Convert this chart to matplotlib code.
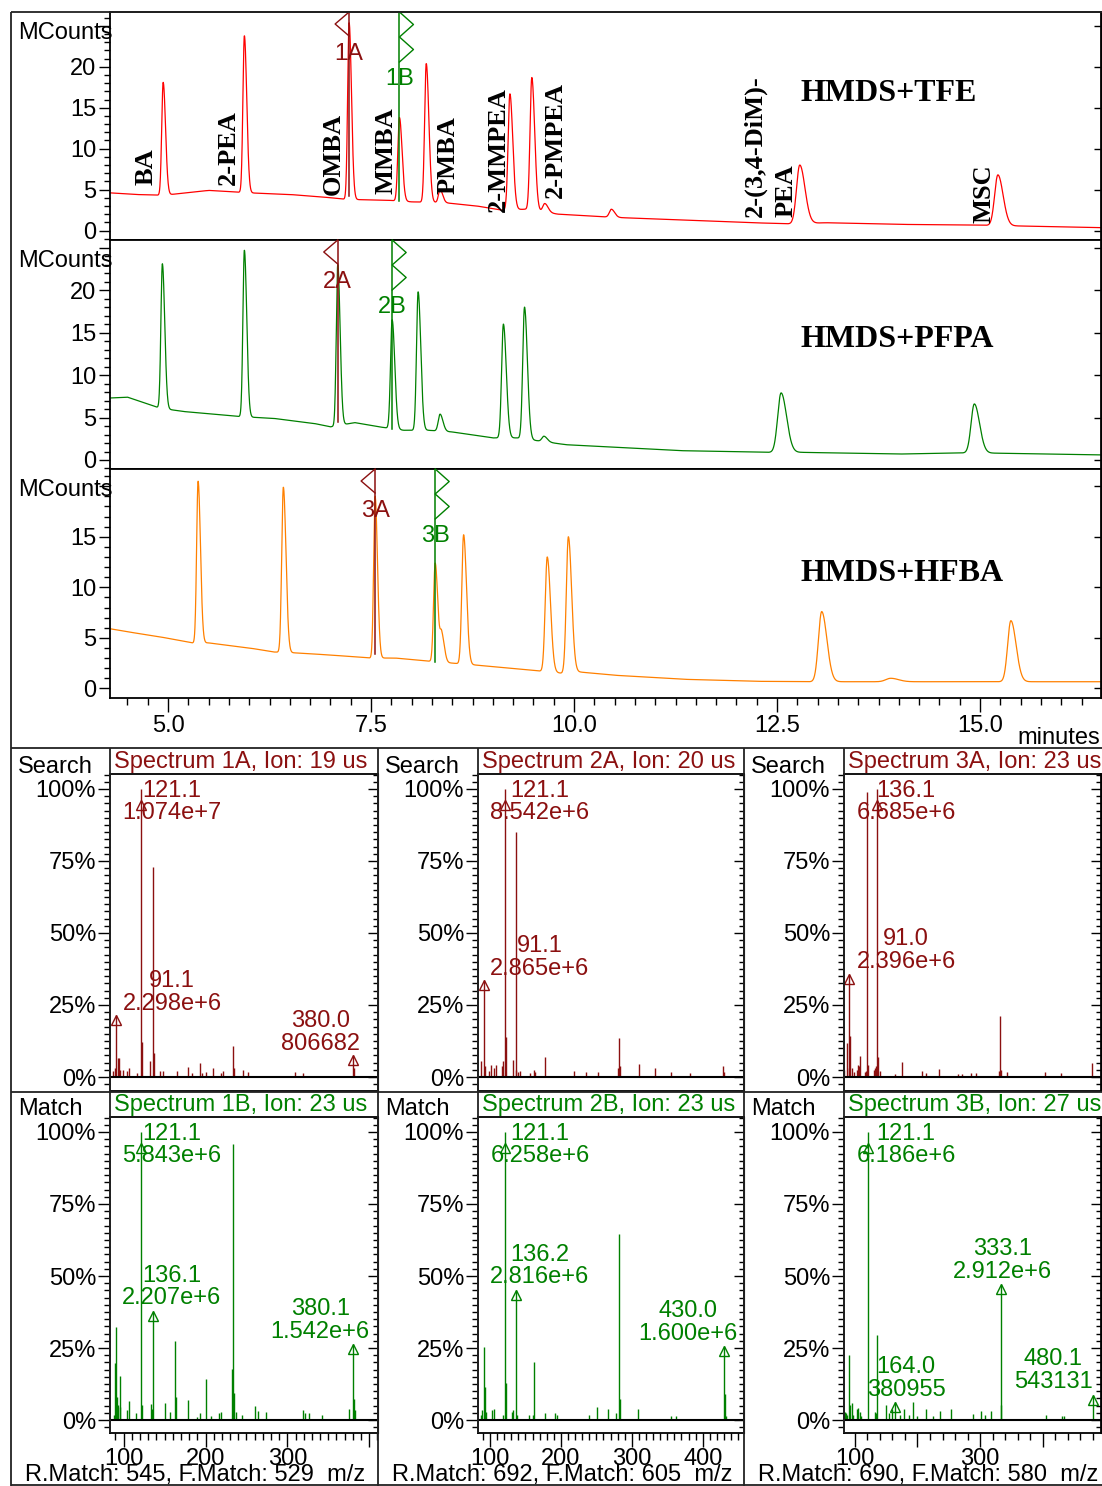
import numpy as np
import matplotlib
matplotlib.use("Agg")
import matplotlib.pyplot as plt
from matplotlib.ticker import MultipleLocator, FixedLocator, FuncFormatter, NullFormatter
from matplotlib.transforms import offset_copy

W, H = 1102, 1486
plt.rcParams['font.family'] = ['Liberation Sans', 'DejaVu Sans']
plt.rcParams['font.size'] = 17
SERIF = ['Liberation Serif', 'DejaVu Serif']

RED = '#ff0000'
GREEN = '#008000'
ORANGE = '#ff8000'
MAROON = '#8b1010'

# ---------------- chromatograms (minutes, MCounts) ----------------
T_RANGE = (4.285, 16.49)

tfe_rt = [4.94, 5.94, 7.23, 7.85, 8.18, 8.35, 9.21, 9.48, 9.64, 10.46, 12.78, 15.22]
tfe_apex = [18.1, 23.8, 25.4, 13.8, 20.4, 5.0, 16.7, 18.7, 3.3, 2.6, 8.0, 6.8]
tfe_sigma = [0.018, 0.018, 0.018, 0.02, 0.02, 0.02, 0.022, 0.022, 0.025, 0.025, 0.04, 0.04]
tfe_base_t = [4.285, 4.6, 4.94, 5.5, 6.0, 6.5, 6.9, 7.2, 7.7, 8.0, 8.4, 8.8, 9.1, 9.4,
              9.8, 10.5, 11.3, 12.2, 12.7, 13.1, 14.0, 15.0, 16.49]
tfe_base_y = [4.6, 4.4, 4.3, 4.9, 4.6, 4.4, 4.1, 3.8, 3.7, 3.5, 3.4, 3.0, 2.5, 2.6,
              2.0, 1.6, 1.3, 0.95, 0.8, 0.95, 0.75, 0.65, 0.35]

pfpa_rt = [4.93, 5.94, 7.09, 7.76, 8.08, 8.35, 9.13, 9.39, 9.63, 12.55, 14.93]
pfpa_apex = [23.1, 24.7, 23.0, 16.5, 19.8, 5.4, 16.0, 18.0, 2.8, 7.9, 6.6]
pfpa_sigma = [0.018, 0.018, 0.018, 0.02, 0.02, 0.022, 0.022, 0.022, 0.025, 0.042, 0.04]
pfpa_base_t = [4.285, 4.5, 4.9, 5.2, 5.9, 6.3, 6.8, 7.0, 7.3, 7.6, 7.9, 8.2, 8.5, 9.0,
               9.3, 9.6, 9.9, 10.5, 11.3, 12.4, 12.8, 14.0, 14.9, 16.49]
pfpa_base_y = [7.3, 7.4, 6.1, 5.7, 5.1, 4.9, 4.3, 3.9, 4.4, 3.9, 3.5, 3.5, 3.3, 2.6,
               2.6, 2.2, 1.8, 1.5, 1.1, 0.9, 0.9, 0.7, 0.85, 0.6]

hfba_rt = [5.37, 6.42, 7.55, 8.29, 8.37, 8.64, 9.67, 9.93, 13.05, 13.9, 15.38]
hfba_apex = [20.5, 19.9, 19.0, 12.4, 5.3, 15.2, 13.0, 15.0, 7.6, 1.0, 6.7]
hfba_sigma = [0.018, 0.02, 0.018, 0.02, 0.02, 0.022, 0.025, 0.025, 0.04, 0.06, 0.04]
hfba_base_t = [4.285, 4.5, 4.9, 5.3, 5.5, 6.0, 6.3, 6.6, 7.0, 7.5, 7.8, 8.2, 8.5, 8.8,
               9.2, 9.6, 9.85, 10.03, 10.5, 11.35, 12.24, 12.9, 16.49]
hfba_base_y = [5.9, 5.6, 5.1, 4.5, 4.5, 4.0, 3.6, 3.5, 3.3, 3.0, 3.0, 2.7, 2.5, 2.3,
               2.0, 1.7, 1.5, 1.65, 1.3, 0.9, 0.7, 0.66, 0.66]

chrom_titles = ['HMDS+TFE', 'HMDS+PFPA', 'HMDS+HFBA']
cursor_a = [7.23, 7.09, 7.55]
cursor_b = [7.85, 7.76, 8.29]

compound_names = ['BA', '2-PEA', 'OMBA', 'MMBA', 'PMBA', '2-MMPEA', '2-PMPEA',
                  '2-(3,4-DiM)-', 'PEA', 'MSC']

# ---------------- mass spectra (m/z, % of base peak) ----------------
s1a_mz = [87, 89, 93, 94, 96, 99, 104, 106, 116, 122, 132, 136, 137, 144, 148, 165, 179, 184,
          193, 196, 201, 209, 219, 221, 233, 235, 246, 252, 309, 319, 381]
s1a_rel = [2.0, 3.0, 6.6, 6.6, 2.5, 2.5, 2.0, 3.0, 1.4, 12.0, 5.4, 73.0, 8.3, 2.0, 2.2, 2.0, 3.4, 1.4,
           4.9, 1.4, 1.7, 3.1, 1.4, 2.2, 10.9, 3.0, 2.5, 1.6, 1.6, 1.4, 3.0]
s1a_ann_mz = [121.1, 91.1, 380.0]
s1a_ann_counts = [1.074e7, 2.298e6, 806682]

s1b_mz = [88, 89, 91, 92, 93, 95, 96, 104, 107, 115, 122, 133, 135, 150, 156, 163, 164, 178, 189,
          193, 201, 207, 216, 219, 232, 233, 235, 237, 245, 261, 264, 274, 319, 321, 327, 342,
          375, 381, 382]
s1b_rel = [1.7, 19.7, 32.4, 8.0, 5.2, 15.3, 4.6, 3.5, 6.7, 2.3, 5.2, 5.5, 4.0, 5.8, 2.9, 27.5, 8.0,
           6.9, 1.2, 2.3, 14.1, 1.4, 2.3, 2.9, 17.6, 95.7, 9.5, 2.9, 1.7, 4.9, 3.2, 2.9, 3.5, 2.3,
           2.3, 1.7, 4.0, 7.2, 3.5]
s1b_ann_mz = [121.1, 136.1, 380.1]
s1b_ann_counts = [5.843e6, 2.207e6, 1.542e6]

s2a_mz = [88, 93, 99, 102, 105, 108, 117, 119, 122, 132, 136, 137, 140, 142, 156, 162, 164, 178,
          219, 236, 252, 281, 282, 283, 310, 332, 355, 382, 429, 430]
s2a_rel = [5.4, 3.9, 2.0, 4.3, 3.1, 4.3, 3.7, 5.4, 13.8, 6.0, 85.0, 2.5, 1.7, 2.0, 1.4, 2.5, 1.6,
           6.9, 2.2, 1.7, 1.6, 3.1, 13.5, 3.9, 4.6, 3.1, 1.7, 1.4, 3.7, 1.6]
s2a_ann_mz = [121.1, 91.1]
s2a_ann_counts = [8.542e6, 2.865e6]

s2b_mz = [88, 89, 91, 93, 94, 103, 106, 118, 122, 131, 133, 138, 155, 161, 162, 177, 192, 194,
          239, 251, 266, 277, 282, 283, 309, 355, 362, 431, 433]
s2b_rel = [1.7, 3.5, 25.4, 11.6, 2.9, 3.5, 3.7, 1.7, 12.7, 2.9, 3.5, 1.7, 1.7, 1.7, 20.0, 2.3,
           2.5, 1.7, 1.7, 4.6, 3.7, 2.5, 64.5, 7.2, 3.7, 1.4, 1.5, 9.0, 1.4]
s2b_ann_mz = [121.1, 136.2, 430.0]
s2b_ann_counts = [6.258e6, 2.816e6, 1.600e6]

s3a_mz = [83, 88, 90, 93, 95, 98, 103, 105, 107, 109, 117, 118, 120, 121, 131, 132, 134, 137,
          141, 164, 176, 207, 213, 234, 265, 271, 286, 293, 330, 332, 333, 342, 404, 429, 479]
s3a_rel = [2.5, 11.8, 3.1, 14.3, 3.0, 1.6, 2.5, 4.3, 3.7, 7.4, 1.6, 2.0, 99.0, 4.3, 2.3, 3.1,
           3.9, 6.9, 2.0, 1.2, 5.1, 2.0, 1.4, 2.8, 1.2, 1.2, 1.4, 1.4, 2.2, 21.3, 2.5, 1.8, 1.6,
           1.4, 4.9]
s3a_ann_mz = [136.1, 91.0]
s3a_ann_counts = [6.685e6, 2.396e6]

s3b_mz = [84, 86, 88, 91, 93, 95, 97, 103, 105, 108, 110, 132, 134, 135, 149, 155, 160, 172,
          178, 187, 193, 199, 213, 224, 236, 253, 289, 301, 308, 317, 334, 405, 430, 433]
s3b_rel = [2.9, 2.3, 1.7, 22.5, 5.2, 5.8, 1.7, 4.0, 4.3, 2.9, 1.4, 2.9, 2.3, 29.5, 5.2, 2.5,
           4.0, 1.7, 4.0, 1.7, 6.1, 1.4, 4.0, 1.4, 3.2, 3.8, 2.1, 3.2, 1.7, 3.2, 5.2, 1.7, 1.4,
           1.4]
s3b_ann_mz = [121.1, 333.1, 164.0, 480.1]
s3b_ann_counts = [6.186e6, 2.912e6, 380955, 543131]

ion_a = [19, 20, 23]
ion_b = [23, 23, 27]
r_match = [545, 692, 690]
f_match = [529, 605, 580]

# ---------------- layout (pixels / data anchors) ----------------
CHROM_Y = [(12, 240), (240, 469), (469, 698)]
CHROM_YLIM = [(-1.16, 26.7), (-1.06, 25.9), (-0.95, 21.7)]
CHROM_TITLE_Y = [16.8, 14.2, 11.36]
NAME_POS = [(4.73, 5.5), (5.74, 5.5), (7.04, 4.3), (7.68, 4.5), (8.45, 4.5), (9.07, 2.25),
            (9.77, 4.0), (12.23, 1.65), (12.61, 1.65), (15.05, 0.9)]

COLS = [(11, 110, 378), (378, 478, 744), (744, 844, 1101)]
COL_XLIM = [(83.3, 410.7), (83.1, 458.2), (82.8, 492.7)]
COL_XTICK_LABELS = [[100, 200, 300], [100, 200, 300, 400], [100, 300]]
COL_XMINOR = [10, 10, 20]
LABEL_XY_A = [[(159, 95.5), (159, 29.3), (340, 15.4)],
              [(170.5, 95.5), (170.5, 41.5)],
              [(182, 95.5), (182, 44)]]
LABEL_XY_B = [[(159, 95.5), (159, 46.2), (340, 34.5)],
              [(170.5, 95.5), (170.5, 53.5), (379, 34)],
              [(182, 95.5), (335, 55.5), (182, 14.5), (416.6, 17.2)]]

fig = plt.figure(figsize=(W / 100, H / 100), dpi=100)


def px_axes(x0, y0, x1, y1):
    return fig.add_axes([x0 / W, 1 - y1 / H, (x1 - x0) / W, (y1 - y0) / H])


def trace(t, rt, apex, sigma, bt, by):
    base = np.interp(t, bt, by)
    y = base.copy()
    for r, a, s in zip(rt, apex, sigma):
        amp = a - np.interp(r, bt, by)
        sd = np.where(t < r, s, 1.6 * s)
        y += amp * np.exp(-0.5 * ((t - r) / sd) ** 2)
    return y


def fmt_counts(c):
    if c < 1e6:
        return f"{c:.0f}"
    e = int(np.floor(np.log10(c)))
    return f"{c / 10 ** e:.3f}e+{e}"


# ---------------- chromatogram panels ----------------
chroms = [
    (tfe_rt, tfe_apex, tfe_sigma, tfe_base_t, tfe_base_y, RED),
    (pfpa_rt, pfpa_apex, pfpa_sigma, pfpa_base_t, pfpa_base_y, GREEN),
    (hfba_rt, hfba_apex, hfba_sigma, hfba_base_t, hfba_base_y, ORANGE),
]
t = np.linspace(T_RANGE[0], T_RANGE[1], 6000)

for i, (rt, apex, sig, bt, by, col) in enumerate(chroms):
    y0, y1 = CHROM_Y[i]
    ax = px_axes(110, y0, 1101, y1)
    ax.set_xlim(*T_RANGE)
    ax.set_ylim(*CHROM_YLIM[i])
    ax.plot(t, trace(t, rt, apex, sig, bt, by), color=col, lw=0.9)

    top = CHROM_YLIM[i][1]
    majors = [0, 5, 10, 15, 20, 25] if i < 2 else [0, 5, 10, 15, 20]
    labelled = [0, 5, 10, 15, 20] if i < 2 else [0, 5, 10, 15]
    ax.yaxis.set_major_locator(FixedLocator(majors))
    ax.yaxis.set_major_formatter(FuncFormatter(lambda v, p, lab=labelled: f"{v:.0f}" if v in lab else ""))
    ax.yaxis.set_minor_locator(MultipleLocator(1))
    ax.tick_params(axis='y', which='major', direction='out', length=8, width=1, pad=2, labelsize=17)
    ax.tick_params(axis='y', which='minor', direction='out', length=4, width=1)
    sec = ax.secondary_yaxis('right')
    sec.yaxis.set_major_locator(FixedLocator(majors))
    sec.yaxis.set_major_formatter(NullFormatter())
    sec.tick_params(direction='in', length=5, width=1)
    for s in ax.spines.values():
        s.set_linewidth(1.3)

    if i < 2:
        ax.tick_params(axis='x', which='both', bottom=False, labelbottom=False)
    else:
        ax.xaxis.set_major_locator(FixedLocator([5.0, 7.5, 10.0, 12.5, 15.0]))
        ax.xaxis.set_major_formatter(FuncFormatter(lambda v, p: f"{v:.1f}"))
        ax.xaxis.set_minor_locator(MultipleLocator(0.25))
        ax.tick_params(axis='x', which='major', direction='out', length=10, width=1, pad=2, labelsize=17)
        ax.tick_params(axis='x', which='minor', direction='out', length=5, width=1)

    ax.text(12.79, CHROM_TITLE_Y[i], chrom_titles[i], family=SERIF, weight='bold',
            fontsize=23, ha='left', va='center')

    # cursors A and B
    ppx = ax.bbox.width / (T_RANGE[1] - T_RANGE[0])
    ppy = ax.bbox.height / (CHROM_YLIM[i][1] - CHROM_YLIM[i][0])
    ta, tb = cursor_a[i], cursor_b[i]
    ax.plot([ta, ta], [np.interp(ta, bt, by) + 0.4, top], color=MAROON, lw=1.1, zorder=4)
    ax.plot([ta, ta - 14 / ppx, ta], [top, top - 12 / ppy, top - 24 / ppy],
            color=MAROON, lw=1, zorder=4, clip_on=False)
    ax.text(ta, top - 42 / ppy, f"{i + 1}A", color=MAROON, ha='center', va='center', fontsize=17)
    ax.plot([tb, tb], [np.interp(tb, bt, by), top], color=GREEN, lw=1.1, zorder=4)
    ax.plot([tb, tb + 14 / ppx, tb, tb + 14 / ppx, tb],
            [top, top - 12.5 / ppy, top - 25 / ppy, top - 37.5 / ppy, top - 50 / ppy],
            color=GREEN, lw=1, zorder=4, clip_on=False)
    ax.text(tb, top - 67 / ppy, f"{i + 1}B", color=GREEN, ha='center', va='center', fontsize=17)

    if i == 0:
        for name, (nx, ny) in zip(compound_names, NAME_POS):
            ax.text(nx, ny, name, rotation=90, family=SERIF, weight='bold', fontsize=19,
                    ha='center', va='bottom')

# ---------------- spectra ----------------
spectra_a = [(s1a_mz, s1a_rel, s1a_ann_mz, s1a_ann_counts),
             (s2a_mz, s2a_rel, s2a_ann_mz, s2a_ann_counts),
             (s3a_mz, s3a_rel, s3a_ann_mz, s3a_ann_counts)]
spectra_b = [(s1b_mz, s1b_rel, s1b_ann_mz, s1b_ann_counts),
             (s2b_mz, s2b_rel, s2b_ann_mz, s2b_ann_counts),
             (s3b_mz, s3b_rel, s3b_ann_mz, s3b_ann_counts)]


def draw_spectrum(ax, spec, label_xy, color):
    mz, rel, ann_mz, ann_counts = spec
    base = max(ann_counts)
    ann_rel = [c / base * 100 for c in ann_counts]
    ax.vlines(mz, 0, rel, color=color, lw=1)
    ax.vlines(ann_mz, 0, ann_rel, color=color, lw=1)
    ax.axhline(0, color='black', lw=1.5, zorder=3)
    tri = offset_copy(ax.transData, fig=fig, y=-3.5, units='points')
    for m, r, c, (lx, ly) in zip(ann_mz, ann_rel, ann_counts, label_xy):
        ax.plot(m, min(r, 96), marker='^', ms=7, mfc='none', mec=color, mew=1, transform=tri)
        ax.text(lx, ly, f"{m:.1f}\n{fmt_counts(c)}", color=color, ha='center', va='center',
                fontsize=17, linespacing=1.05)


def style_spectrum(ax, col, bottom_ticks):
    ax.set_xlim(*COL_XLIM[col])
    ax.yaxis.set_major_locator(MultipleLocator(25))
    ax.yaxis.set_major_formatter(FuncFormatter(lambda v, p: f"{v:.0f}%" if 0 <= v <= 100 else ""))
    ax.yaxis.set_minor_locator(MultipleLocator(2.5))
    ax.tick_params(axis='y', which='major', direction='out', length=9, width=1, pad=1, labelsize=17)
    ax.tick_params(axis='y', which='minor', direction='out', length=4, width=1)
    sec = ax.secondary_yaxis('right')
    sec.yaxis.set_major_locator(MultipleLocator(25))
    sec.yaxis.set_minor_locator(MultipleLocator(2.5))
    sec.yaxis.set_major_formatter(NullFormatter())
    sec.tick_params(which='major', direction='in', length=7, width=1)
    sec.tick_params(which='minor', direction='in', length=3.5, width=1)
    for s in ax.spines.values():
        s.set_linewidth(1.3)
    if bottom_ticks:
        ax.xaxis.set_major_locator(MultipleLocator(100))
        labs = COL_XTICK_LABELS[col]
        ax.xaxis.set_major_formatter(FuncFormatter(lambda v, p, labs=labs: f"{v:.0f}" if v in labs else ""))
        ax.xaxis.set_minor_locator(MultipleLocator(COL_XMINOR[col]))
        ax.tick_params(axis='x', which='major', direction='out', length=10, width=1, pad=1, labelsize=17)
        ax.tick_params(axis='x', which='minor', direction='out', length=5, width=1)
    else:
        ax.tick_params(axis='x', which='both', bottom=False, labelbottom=False)


for c, (cl, ax0, ax1) in enumerate(COLS):
    axa = px_axes(ax0, 774, ax1, 1091)
    axa.set_ylim(-4.86, 105.2)
    style_spectrum(axa, c, False)
    draw_spectrum(axa, spectra_a[c], LABEL_XY_A[c], MAROON)

    axb = px_axes(ax0, 1117, ax1, 1433)
    axb.set_ylim(-4.5, 105.2)
    style_spectrum(axb, c, True)
    draw_spectrum(axb, spectra_b[c], LABEL_XY_B[c], GREEN)

# ---------------- frame, dividers and panel captions ----------------
ov = fig.add_axes([0, 0, 1, 1])
ov.set_xlim(0, W)
ov.set_ylim(H, 0)
ov.axis('off')
ov.patch.set_alpha(0)

frame = dict(color='#222222', lw=1.3, solid_capstyle='butt')
ov.plot([11, 11], [12, 1486], **frame)
ov.plot([11, 1102], [12, 12], **frame)
ov.plot([11, 1102], [748, 748], **frame)
ov.plot([11, 1102], [1092, 1092], **frame)
ov.plot([11, 1102], [1485, 1485], **frame)
for x in [378, 744]:
    ov.plot([x, x], [748, 1486], **frame)
for cl, ax0, ax1 in COLS:
    ov.plot([ax0, ax0], [748, 1092], **frame)
    ov.plot([ax0, ax0], [1092, 1433], **frame)

for y0, y1 in CHROM_Y:
    ov.text(18, y0 + 21, 'MCounts', ha='left', va='center', fontsize=17)
ov.text(1100, 738, 'minutes', ha='right', va='center', fontsize=17)

for c, (cl, ax0, ax1) in enumerate(COLS):
    ov.text(cl + 7, 767, 'Search', ha='left', va='center', fontsize=17)
    ov.text(cl + 7, 1109, 'Match', ha='left', va='center', fontsize=17)
    ov.text(ax0 + 4, 762, f"Spectrum {c + 1}A, Ion: {ion_a[c]} us", color=MAROON,
            ha='left', va='center', fontsize=17)
    ov.text(ax0 + 4, 1105, f"Spectrum {c + 1}B, Ion: {ion_b[c]} us", color=GREEN,
            ha='left', va='center', fontsize=17)
    ov.text(cl + 14, 1475, f"R.Match: {r_match[c]}, F.Match: {f_match[c]}  m/z",
            ha='left', va='center', fontsize=17)

fig.savefig('out.png', dpi=100)
